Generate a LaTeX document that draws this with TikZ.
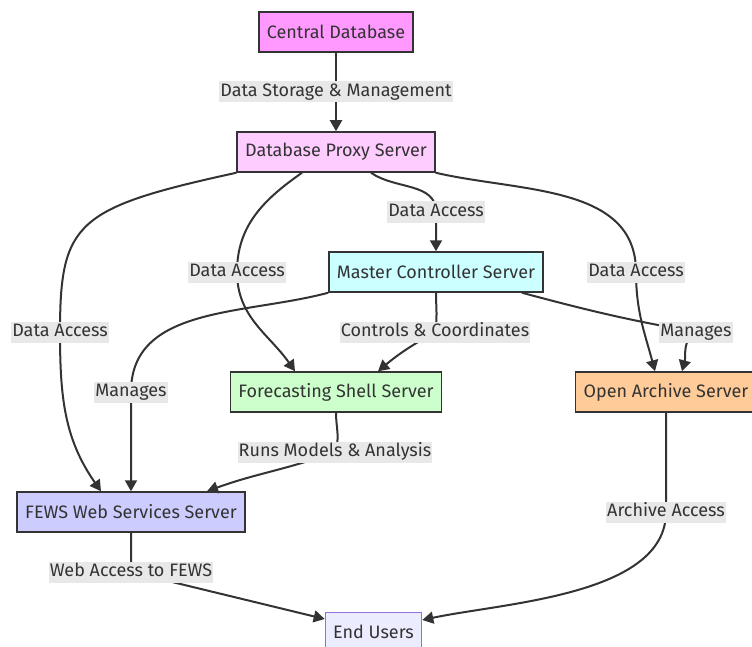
\documentclass[tikz,border=0pt]{standalone}
\usepackage{fontspec}
\setmainfont{Fira Sans}
\usepackage{tikz}
\usetikzlibrary{positioning, arrows.meta}
\definecolor{ink}{HTML}{333333}
\definecolor{dbfill}{HTML}{FF99FF}
\definecolor{proxyfill}{HTML}{FFCCFF}
\definecolor{ctrlfill}{HTML}{CCFFFF}
\definecolor{shellfill}{HTML}{CCFFCC}
\definecolor{archfill}{HTML}{FFCC99}
\definecolor{webfill}{HTML}{CCCCFF}
\definecolor{userfill}{HTML}{ECECFF}
\definecolor{userline}{HTML}{9370DB}
\definecolor{lblfill}{HTML}{E8E8E8}
\tikzset{->,>={Triangle[length=11pt,width=12pt]},node distance=120pt,on grid,
  srv/.style={draw=ink, line width=1.5pt, text=ink, minimum height=40pt, inner xsep=8pt,
    font=\fontsize{18pt}{21pt}\selectfont},
  usr/.style={srv, draw=userline, line width=1pt, fill=userfill},
  lbl/.style={fill=lblfill, text=ink, inner xsep=1pt, inner ysep=2pt, text height=13pt,
    text depth=4pt, font=\fontsize{18pt}{21pt}\selectfont},
  link/.style={draw=ink, line width=2pt}}

\begin{document}
\begin{tikzpicture}
\useasboundingbox (0,0) rectangle (752pt,-647pt);
\begin{scope}[x=1pt,y=1pt]
\node[srv, fill=dbfill] (cdb) at (336,-32) {Central Database};
\node[srv, fill=proxyfill, below=of cdb] (proxy) {Database Proxy Server};
\node[srv, fill=ctrlfill, below right=120pt and 100pt of proxy] (ctrl) {Master Controller Server};
\node[srv, fill=shellfill, below=240pt of proxy] (shell) {Forecasting Shell Server};
\node[srv, fill=archfill, right=330pt of shell] (archive) {Open Archive Server};
\node[srv, fill=webfill, below left=120pt and 205pt of shell] (web) {FEWS Web Services Server};
\node[usr, below right=120pt and 242.5pt of web] (users) {End Users};

\draw[link] (cdb) -- node[lbl]{Data Storage \& Management} (proxy);
\draw[link] ([xshift=35pt]proxy.south) to[out=-35,in=90] (436,-212) node[lbl]{Data Access} -- (ctrl.north);
\draw[link] ([xshift=-34pt]proxy.south) to[out=-145,in=90] (237,-272) node[lbl]{Data Access}
  to[out=-90,in=125] ([xshift=-41pt]shell.north);
\draw[link] (proxy.south east) to[out=-13,in=90] (636,-272) node[lbl]{Data Access}
  to[out=-90,in=105] ([xshift=-11pt]archive.north);
\draw[link] (proxy.south west) .. controls +(-160,-35) and +(0,110) .. (60,-332) node[lbl]{Data Access}
  to[out=-90,in=125] ([xshift=-30pt]web.north);
\draw[link] (ctrl.south) to[out=-90,in=80] (435,-332) node[lbl]{Controls \& Coordinates}
  to[out=-150,in=40] ([xshift=42pt]shell.north);
\draw[link] (ctrl.south west) to[out=-165,in=90] (131,-392) node[lbl]{Manages} -- (web.north);
\draw[link] ([xshift=86pt]ctrl.south) to[out=-15,in=170] (696,-332) node[lbl]{Manages}
  to[out=-150,in=75] ([xshift=16pt]archive.north);
\draw[link] (shell.south) to[out=-90,in=70] (335,-452) node[lbl]{Runs Models \& Analysis}
  to[out=-160,in=20] ([xshift=76pt]web.north);
\draw[link] (web) -- (131,-572) node[lbl]{Web Access to FEWS} -- ([yshift=13pt]users.west);
\draw[link] (archive) -- (666,-512) node[lbl]{Archive Access}
  to[out=-90,in=12,looseness=0.8] ([yshift=12pt]users.east);
\end{scope}
\end{tikzpicture}
\end{document}
